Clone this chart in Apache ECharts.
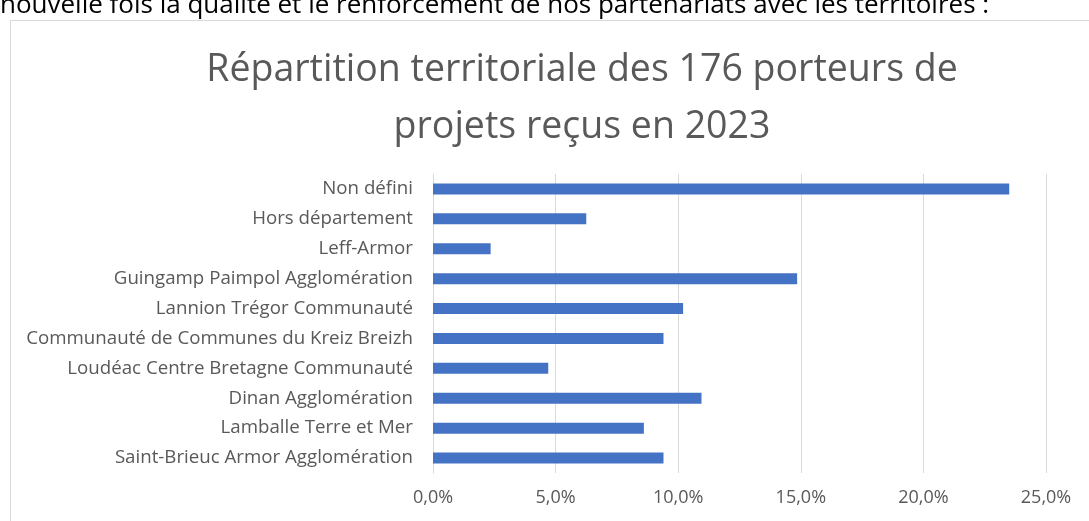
<!DOCTYPE html>
<html>
<head>
<meta charset="utf-8">
<script src="https://cdn.jsdelivr.net/npm/echarts@6/dist/echarts.min.js"></script>
<style>
html,body{margin:0;padding:0;background:#fff;}
#c{width:1089px;height:521px;}
</style>
</head>
<body>
<div id="c"></div>
<script>
const categories = [
  "Non défini",
  "Hors département",
  "Leff-Armor",
  "Guingamp Paimpol Agglomération",
  "Lannion Trégor Communauté",
  "Communauté de Communes du Kreiz Breizh",
  "Loudéac Centre Bretagne Communauté",
  "Dinan Agglomération",
  "Lamballe Terre et Mer",
  "Saint-Brieuc Armor Agglomération"
];
const values = [23.5, 6.25, 2.35, 14.85, 10.2, 9.4, 4.7, 10.95, 8.6, 9.4];
const xTicks = [0, 5, 10, 15, 20, 25];
const titleText = "Répartition territoriale des 176 porteurs de\nprojets reçus en 2023";
const topText = "nouvelle fois la qualité et le renforcement de nos partenariats avec les territoires :";

const chart = echarts.init(document.getElementById('c'));
chart.setOption({
  animation: false,
  backgroundColor: '#fff',
  graphic: [
    {type: 'rect', shape: {x: 10.5, y: 20.5, width: 1200, height: 600}, style: {fill: '#fff', stroke: '#d9d9d9', lineWidth: 1}, z: -10},
    {type: 'text', x: 0, y: 6, style: {text: topText, font: '26px "Open Sans"', fill: '#000', verticalAlign: 'middle'}, z: 10}
  ],
  title: {
    text: titleText,
    left: 577,
    top: 37,
    textAlign: 'center',
    textStyle: {fontFamily: 'Open Sans', fontWeight: 'normal', fontSize: 37.5, color: '#595959', lineHeight: 57}
  },
  grid: {left: 433, right: 43, top: 174, bottom: 48, containLabel: false},
  xAxis: {
    type: 'value', min: 0, max: 25, interval: 5,
    axisLine: {show: false}, axisTick: {show: false},
    splitLine: {lineStyle: {color: '#d9d9d9', width: 1}},
    axisLabel: {
      color: '#595959', fontFamily: 'Open Sans', fontSize: 18, margin: 16,
      formatter: v => xTicks.includes(v) ? v.toFixed(1).replace('.', ',') + '%' : ''
    }
  },
  yAxis: {
    type: 'category', data: categories, inverse: true,
    axisLine: {show: true, lineStyle: {color: '#d9d9d9'}},
    axisTick: {show: false},
    axisLabel: {color: '#595959', fontFamily: 'Open Sans', fontSize: 18.7, margin: 20}
  },
  series: [{
    type: 'bar', data: values, barWidth: 11,
    itemStyle: {color: '#4472c4'}
  }]
});
</script>
</body>
</html>
